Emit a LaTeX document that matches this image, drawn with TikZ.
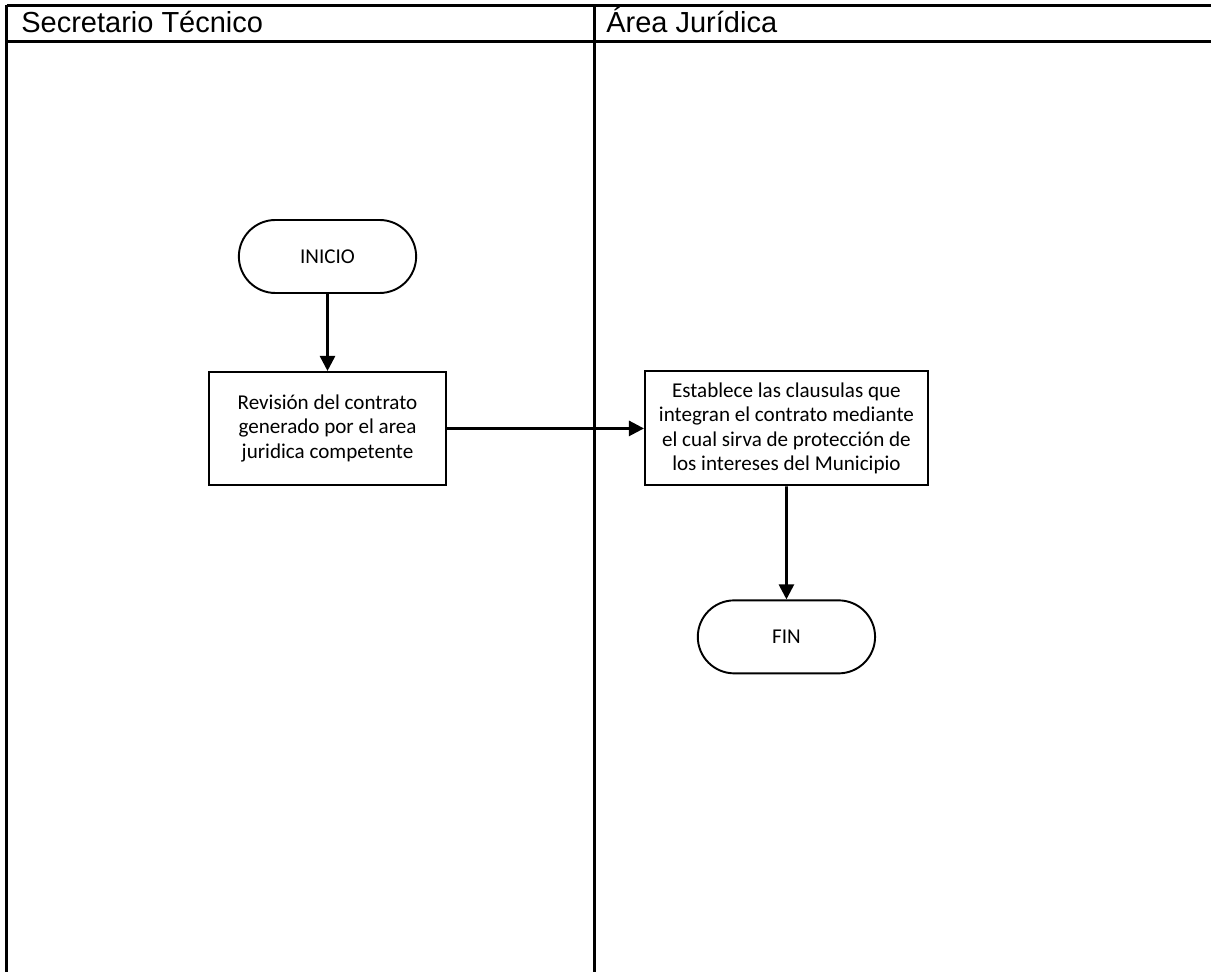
\documentclass[tikz,border=0pt]{standalone}
\usepackage{fontspec}
\setmainfont{Carlito}
\newfontfamily\headfont{Liberation Sans}
\usepackage{tikz}
\usetikzlibrary{arrows.meta,positioning,shapes.misc}

\begin{document}
\begin{tikzpicture}[
  node distance=1.5cm and 4cm,
  box/.style={draw, rectangle, line width=1.1pt, minimum width=4.74cm, minimum height=2.26cm, align=center, font=\fontsize{12}{14}\selectfont},
  terminal/.style={draw, rounded rectangle, line width=1.1pt, minimum width=3.78cm, minimum height=1.46cm, align=center, font=\fontsize{12}{14}\selectfont},
  lanetitle/.style={anchor=base west, inner sep=0pt, font=\headfont\fontsize{16.5}{19}\selectfont},
  lane/.style={line width=1.7pt},
  arrow/.style={-{Triangle[length=0.3cm,width=0.3cm]}, line width=1.5pt}
]
  \useasboundingbox (0,0) rectangle (24.22,-19.44);

  % Swimlanes
  \draw[lane] (0.13,-0.11) -- (24.22,-0.11);
  \draw[lane] (0.13,-0.84) -- (24.22,-0.84);
  \draw[lane] (0.13,-0.11) -- (0.13,-19.44);
  \draw[lane] (11.88,-0.11) -- (11.88,-19.44);
  \node[lanetitle] (lane_st) at (0.42,-0.65) {Secretario Técnico};
  \node[lanetitle] (lane_aj) at (12.12,-0.65) {Área Jurídica};

  % Nodes
  \node[terminal] (inicio) at (6.55,-5.13) {INICIO};
  \node[box, below=1.54cm of inicio] (revision) {Revisión del contrato\\generado por el area\\juridica competente};
  \node[box, right=3.94cm of revision, minimum width=5.66cm, minimum height=2.28cm] (establece) {Establece las clausulas que\\integran el contrato mediante\\el cual sirva de protección de\\los intereses del Municipio};
  \node[terminal, below=2.26cm of establece] (fin) {FIN};

  % Arrows
  \draw[arrow] (inicio) -- (revision);
  \draw[arrow] (revision) -- (establece);
  \draw[arrow] (establece) -- (fin);
\end{tikzpicture}
\end{document}
